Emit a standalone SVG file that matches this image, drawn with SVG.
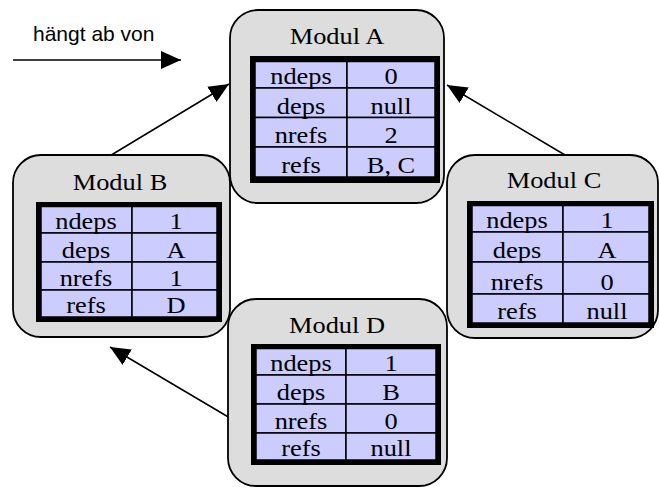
<svg xmlns="http://www.w3.org/2000/svg" width="659" height="488" viewBox="0 0 659 488">
<style>
.box{fill:#dddddd;stroke:#000;stroke-width:1.8}
.tb{fill:#000}
.cell{fill:#ccccff;stroke:#000;stroke-width:1.5}
.t{font-family:"Liberation Serif","Times New Roman",serif;font-size:24px;fill:#000;text-anchor:middle}
.ti{font-family:"Liberation Serif","Times New Roman",serif;font-size:24px;fill:#000;text-anchor:middle}
.lg{font-family:"Liberation Sans",Arial,sans-serif;font-size:21px;fill:#000}
.ln{stroke:#000;stroke-width:1.5;fill:none}
</style>
<defs>
<marker id="ah" markerUnits="userSpaceOnUse" markerWidth="20" markerHeight="20" refX="20" refY="9" orient="auto" viewBox="0 0 20 18">
<path d="M0,0 L20,9 L0,18 z" fill="#000"/>
</marker>
</defs>
<g id="connectors">
<line class="ln" x1="13" y1="60" x2="181" y2="60" marker-end="url(#ah)"/>
<line class="ln" x1="108" y1="157" x2="229" y2="84" marker-end="url(#ah)"/>
<line class="ln" x1="565" y1="155" x2="447" y2="85" marker-end="url(#ah)"/>
<line class="ln" x1="230" y1="418" x2="110" y2="347" marker-end="url(#ah)"/>
</g>
<text id="legend" class="lg" x="33" y="41">hängt ab von</text>
<g id="modulA">
<rect class="box" x="230" y="10" width="214" height="193" rx="28"/>
<text class="ti" transform="translate(337,44) scale(1.1,1)">Modul A</text>
<rect class="tb" x="250" y="56" width="190" height="127"/>
<rect class="cell" x="255" y="61.5" width="92" height="26.5"/><rect class="cell" x="347" y="61.5" width="88" height="26.5"/>
<rect class="cell" x="255" y="88" width="92" height="29.5"/><rect class="cell" x="347" y="88" width="88" height="29.5"/>
<rect class="cell" x="255" y="117.5" width="92" height="29.5"/><rect class="cell" x="347" y="117.5" width="88" height="29.5"/>
<rect class="cell" x="255" y="147" width="92" height="30"/><rect class="cell" x="347" y="147" width="88" height="30"/>
<text class="t" transform="translate(301,84) scale(1.1,1)">ndeps</text><text class="t" transform="translate(391,84) scale(1.1,1)">0</text>
<text class="t" transform="translate(301,113.5) scale(1.1,1)">deps</text><text class="t" transform="translate(391,113.5) scale(1.1,1)">null</text>
<text class="t" transform="translate(301,143) scale(1.1,1)">nrefs</text><text class="t" transform="translate(391,143) scale(1.1,1)">2</text>
<text class="t" transform="translate(301,173) scale(1.1,1)">refs</text><text class="t" transform="translate(391,173) scale(1.1,1)">B, C</text>
</g>
<g id="modulB">
<rect class="box" x="13" y="155" width="217" height="182" rx="28"/>
<text class="ti" transform="translate(120,190) scale(1.1,1)">Modul B</text>
<rect class="tb" x="36" y="202" width="186" height="120"/>
<rect class="cell" x="41" y="206.5" width="91" height="26.5"/><rect class="cell" x="132" y="206.5" width="85" height="26.5"/>
<rect class="cell" x="41" y="233" width="91" height="29"/><rect class="cell" x="132" y="233" width="85" height="29"/>
<rect class="cell" x="41" y="262" width="91" height="28"/><rect class="cell" x="132" y="262" width="85" height="28"/>
<rect class="cell" x="41" y="290" width="91" height="27"/><rect class="cell" x="132" y="290" width="85" height="27"/>
<text class="t" transform="translate(86,229) scale(1.1,1)">ndeps</text><text class="t" transform="translate(176,229) scale(1.1,1)">1</text>
<text class="t" transform="translate(86,258) scale(1.1,1)">deps</text><text class="t" transform="translate(176,258) scale(1.1,1)">A</text>
<text class="t" transform="translate(86,286) scale(1.1,1)">nrefs</text><text class="t" transform="translate(176,286) scale(1.1,1)">1</text>
<text class="t" transform="translate(86,313) scale(1.1,1)">refs</text><text class="t" transform="translate(176,313) scale(1.1,1)">D</text>
</g>
<g id="modulC">
<rect class="box" x="447" y="155" width="211" height="183" rx="28"/>
<text class="ti" transform="translate(554,188) scale(1.1,1)">Modul C</text>
<rect class="tb" x="467" y="201" width="187" height="127"/>
<rect class="cell" x="472" y="205.5" width="91" height="26.5"/><rect class="cell" x="563" y="205.5" width="86" height="26.5"/>
<rect class="cell" x="472" y="232" width="91" height="30"/><rect class="cell" x="563" y="232" width="86" height="30"/>
<rect class="cell" x="472" y="262" width="91" height="32"/><rect class="cell" x="563" y="262" width="86" height="32"/>
<rect class="cell" x="472" y="294" width="91" height="29"/><rect class="cell" x="563" y="294" width="86" height="29"/>
<text class="t" transform="translate(517,228) scale(1.1,1)">ndeps</text><text class="t" transform="translate(607,228) scale(1.1,1)">1</text>
<text class="t" transform="translate(517,258) scale(1.1,1)">deps</text><text class="t" transform="translate(607,258) scale(1.1,1)">A</text>
<text class="t" transform="translate(517,290) scale(1.1,1)">nrefs</text><text class="t" transform="translate(607,290) scale(1.1,1)">0</text>
<text class="t" transform="translate(517,319) scale(1.1,1)">refs</text><text class="t" transform="translate(607,319) scale(1.1,1)">null</text>
</g>
<g id="modulD">
<rect class="box" x="228" y="299" width="219" height="187" rx="28"/>
<text class="ti" transform="translate(337,333) scale(1.1,1)">Modul D</text>
<rect class="tb" x="251" y="344" width="190" height="121"/>
<rect class="cell" x="256" y="348.5" width="90" height="26.5"/><rect class="cell" x="346" y="348.5" width="90" height="26.5"/>
<rect class="cell" x="256" y="375" width="90" height="29"/><rect class="cell" x="346" y="375" width="90" height="29"/>
<rect class="cell" x="256" y="404" width="90" height="29"/><rect class="cell" x="346" y="404" width="90" height="29"/>
<rect class="cell" x="256" y="433" width="90" height="27"/><rect class="cell" x="346" y="433" width="90" height="27"/>
<text class="t" transform="translate(301,371) scale(1.1,1)">ndeps</text><text class="t" transform="translate(391,371) scale(1.1,1)">1</text>
<text class="t" transform="translate(301,400) scale(1.1,1)">deps</text><text class="t" transform="translate(391,400) scale(1.1,1)">B</text>
<text class="t" transform="translate(301,429) scale(1.1,1)">nrefs</text><text class="t" transform="translate(391,429) scale(1.1,1)">0</text>
<text class="t" transform="translate(301,456) scale(1.1,1)">refs</text><text class="t" transform="translate(391,456) scale(1.1,1)">null</text>
</g>
</svg>
